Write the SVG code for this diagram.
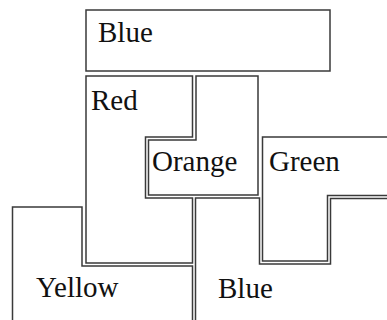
<svg xmlns="http://www.w3.org/2000/svg" width="387" height="320" viewBox="0 0 387 320">
<style>
.s{fill:none;stroke:#3a3a3a;stroke-width:1.5;stroke-linejoin:miter}
.t{font-family:"Liberation Serif","Times New Roman",serif;font-size:29px;fill:#111}
</style>
<rect width="387" height="320" fill="#fff"/>
<g id="blue-top"><rect class="s" x="86" y="10" width="244" height="61"/><text class="t" x="98" y="42">Blue</text></g>
<g id="red"><path class="s" d="M86,76 H192.5 V137 H145.5 V198 H192.5 V263 H86 Z"/><text class="t" x="91" y="110">Red</text></g>
<g id="orange"><path class="s" d="M196,76 H258 V195 H148.5 V140 H196 Z"/><text class="t" x="152" y="171">Orange</text></g>
<g id="green"><path class="s" d="M388,137 H262.5 V261 H327.5 V195.5 H388"/><text class="t" x="269" y="171">Green</text></g>
<g id="yellow"><path class="s" d="M12.5,321 V207 H82 V266 H192.5 V321"/><text class="t" x="36" y="297">Yellow</text></g>
<g id="blue-bottom"><path class="s" d="M195.5,321 V198 H259.5 V264 H330.5 V198.5 H388"/><text class="t" x="218" y="298">Blue</text></g>
<g id="connectors"/>
</svg>
